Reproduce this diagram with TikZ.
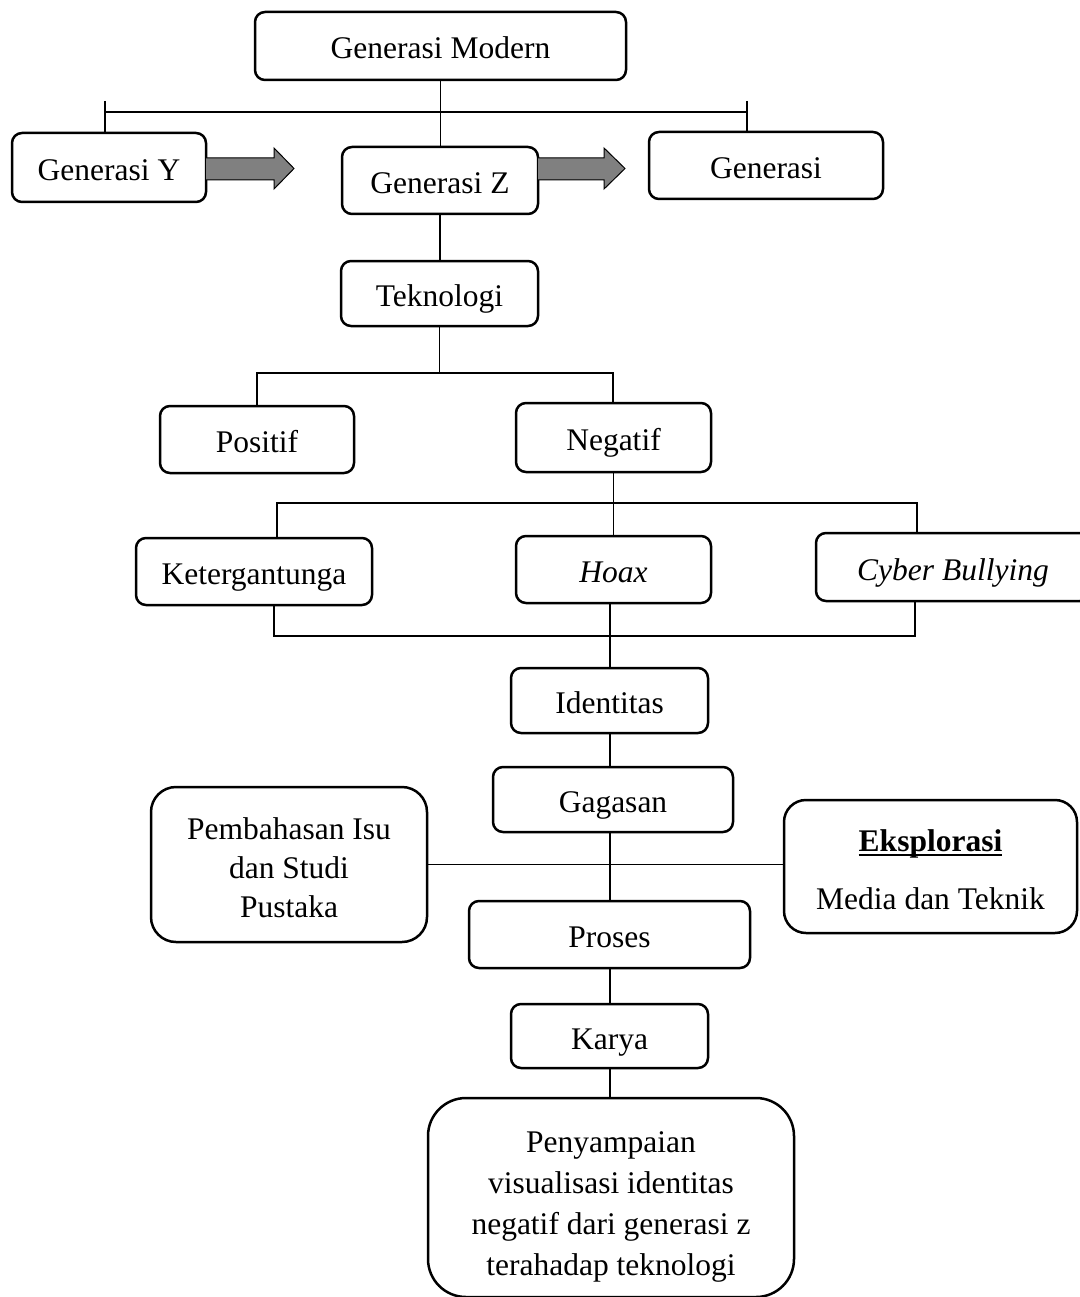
\documentclass[tikz,border=0pt]{standalone}
\usepackage{fontspec}
\setmainfont{Liberation Serif}
\newcommand\thickul[1]{\setbox0\hbox{#1}\rlap{\rule[-5pt]{\wd0}{2pt}}\box0}
\begin{document}
\begin{tikzpicture}[x=1pt,y=-1pt,
  box/.style={draw,line width=2.5pt,rounded corners=10pt,fill=white,inner sep=0pt,outer sep=0pt,align=center,
    font=\fontsize{31.5}{39}\selectfont},
  onel/.style={text height=26pt,text depth=0pt},
  link/.style={line width=1.1pt},
  blockarrow/.style={draw,line width=1pt,fill={rgb,255:red,128;green,128;blue,128}}]
\useasboundingbox (0,0) rectangle (1079,1297);
% nodes
\node[box,onel,minimum width=371pt,minimum height=68pt] (gm) at (440.5,46) {Generasi Modern};
\node[box,onel,minimum width=194pt,minimum height=69pt] (gy) at (109,167.5) {Generasi Y};
\node[box,onel,minimum width=196pt,minimum height=67pt] (gz) at (440,180.5) {Generasi Z};
\node[box,onel,minimum width=234pt,minimum height=67pt] (gg) at (766,165.5) {Generasi};
\node[box,onel,minimum width=197pt,minimum height=65pt] (tek) at (439.5,293.5) {Teknologi};
\node[box,onel,minimum width=194pt,minimum height=67pt] (pos) at (257,439.5) {Positif};
\node[box,onel,minimum width=195pt,minimum height=69pt] (neg) at (613.5,437.5) {Negatif};
\node[box,onel,minimum width=236pt,minimum height=67pt] (ket) at (254,571.5) {Ketergantunga};
\node[box,onel,minimum width=195pt,minimum height=67pt] (hoax) at (613.5,569.5) {\itshape Hoax};
\node[box,onel,minimum width=274pt,minimum height=68pt] (cyb) at (953,567) {\itshape Cyber Bullying};
\node[box,onel,minimum width=197pt,minimum height=65pt] (ide) at (609.5,700.5) {Identitas};
\node[box,onel,minimum width=240pt,minimum height=65pt] (gag) at (613,799.5) {Gagasan};
\node[box,rounded corners=25pt,minimum width=276pt,minimum height=155pt] (pem) at (289,864.5) {\rule{0pt}{28pt}Pembahasan Isu\\dan Studi\\Pustaka};
\node[box,rounded corners=22pt,minimum width=293pt,minimum height=133pt] (eks) at (930.5,866.5) {\rule{0pt}{28pt}\thickul{\textbf{Eksplorasi}}\\[19pt]Media dan Teknik};
\node[box,onel,minimum width=281pt,minimum height=67pt] (pro) at (609.5,934.5) {Proses};
\node[box,onel,minimum width=197pt,minimum height=64pt] (kar) at (609.5,1036) {Karya};
\node[box,rounded corners=38pt,minimum width=366pt,minimum height=199pt,font=\fontsize{31.5}{41}\selectfont] (fin) at (611,1197.5) {\rule{0pt}{40pt}Penyampaian\\visualisasi identitas\\negatif dari generasi z\\terahadap teknologi};
% coordinates
\coordinate (l1) at (105,101);
\coordinate (r1) at (747,101);
\coordinate (hl1) at (105,112);
\coordinate (hr1) at (747,112);
\coordinate (t1) at (439.5,373);
\coordinate (tl) at (257,373);
\coordinate (tr) at (613,373);
\coordinate (nl) at (277,503);
\coordinate (nr) at (917,503);
\coordinate (bl) at (274,636);
\coordinate (br) at (915,636);
\coordinate (hs) at (610,603);
% connectors
\draw[link] (gm.south) -- (gm.south |- gz.north);
\draw[link] (hl1) -- (hr1);
\draw[link] (l1) -- (l1 |- gy.north);
\draw[link] (r1) -- (r1 |- gg.north);
\draw[link] (gz.south) -- (gz.south |- tek.north);
\draw[link] (tek.south) -- (t1);
\draw[link] (tl |- pos.north) -- (tl) -- (tr) -- (tr |- neg.north);
\draw[link] (neg.south) -- (hoax.north);
\draw[link] (nl |- ket.north) -- (nl) -- (nr) -- (nr |- cyb.north);
\draw[link] (bl |- ket.south) -- (bl) -- (br) -- (br |- cyb.south);
\draw[link] (hs) -- (hs |- ide.north);
\draw[link] (hs |- ide.south) -- (hs |- gag.north);
\draw[link] (hs |- gag.south) -- (hs |- pro.north);
\draw[link] (pem.east) -- (pem.east -| eks.west);
\draw[link] (hs |- pro.south) -- (hs |- kar.north);
\draw[link] (hs |- kar.south) -- (hs |- fin.north);
% block arrows
\draw[blockarrow] (gy.east |- 0,158) -- (274,158) -- (274,148) -- (294,168.5) -- (274,189) -- (274,180) -- (gy.east |- 0,180);
\draw[blockarrow] (gz.east |- 0,158) -- (604,158) -- (604,148) -- (625,168.5) -- (604,189) -- (604,180) -- (gz.east |- 0,180);
\end{tikzpicture}
\end{document}
